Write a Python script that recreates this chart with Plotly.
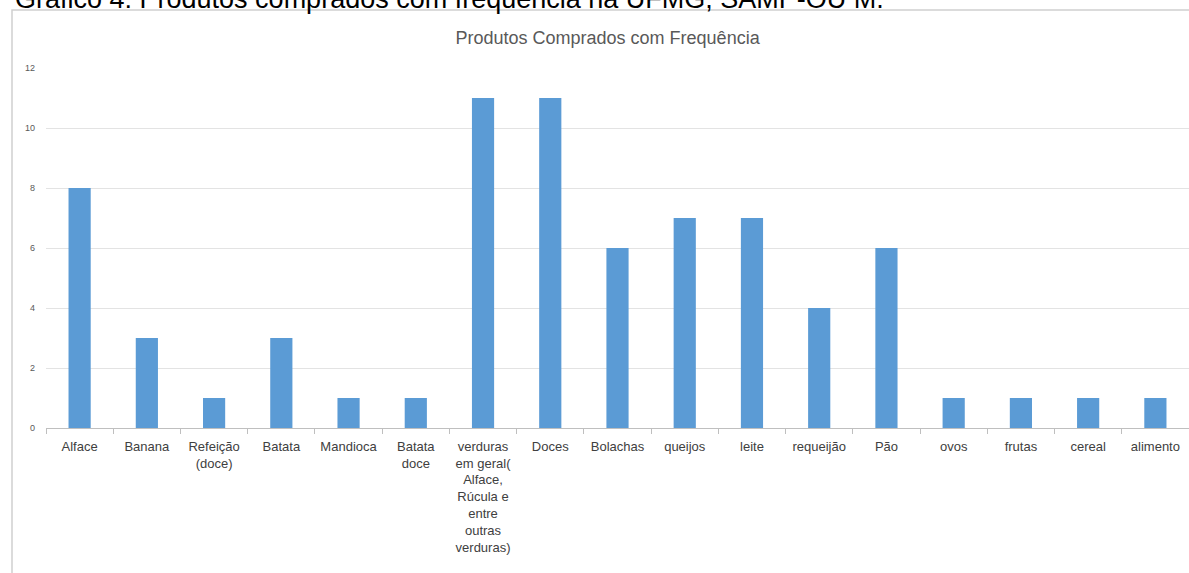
import plotly.graph_objects as go

categories = [
    "Alface", "Banana", "Refeição<br>(doce)", "Batata", "Mandioca", "Batata<br>doce",
    "verduras<br>em geral(<br>Alface,<br>Rúcula e<br>entre<br>outras<br>verduras)",
    "Doces", "Bolachas", "queijos", "leite", "requeijão", "Pão",
    "ovos", "frutas", "cereal", "alimento",
]
values = [8, 3, 1, 3, 1, 1, 11, 11, 6, 7, 7, 4, 6, 1, 1, 1, 1]
y_ticks = [0, 2, 4, 6, 8, 10, 12]

title_text = "Produtos Comprados com Frequência"
caption_text = "Gráfico 4: Produtos comprados com frequência na UFMG, SAMP-OU M."

fig = go.Figure(go.Bar(x=categories, y=values, marker_color="#5B9BD5",
                       marker_line_width=0))

fig.update_layout(
    width=1189, height=573,
    margin=dict(l=46, r=0, t=68, b=145),
    paper_bgcolor="white", plot_bgcolor="white",
    bargap=0.67,
    showlegend=False,
    font=dict(family="Liberation Sans, Arial, sans-serif", color="#404040"),
    title=dict(text=title_text, x=0.511, xanchor="center", y=1 - 38/573, yanchor="middle",
               font=dict(size=18, color="#595959")),
)
fig.update_xaxes(
    type="category", showline=True, linecolor="#bfbfbf", linewidth=1,
    ticks="outside", tickson="boundaries", ticklen=5, tickcolor="#bfbfbf",
    tickfont=dict(size=13, color="#404040"), tickangle=0, showgrid=False,
    ticklabelstandoff=6,
)
fig.update_yaxes(
    range=[0, 12], tickvals=y_ticks, showgrid=True, gridcolor="#e3e3e3",
    zeroline=False, showline=False, tickfont=dict(size=9, color="#595959"),
    ticks="", ticklabelstandoff=10,
)

# chart frame border
fig.add_shape(type="rect", xref="paper", yref="paper",
              x0=-34/1143, x1=1.05, y0=-0.5, y1=1 + 58/360,
              line=dict(color="#d0d0d0", width=1.5), fillcolor="rgba(0,0,0,0)", layer="below")

# caption at the very top, cut off by the image edge (as in the reference)
fig.add_annotation(text=caption_text, xref="paper", yref="paper",
                   x=-33/1143, xanchor="left", y=1 + 68/360, yanchor="bottom", yshift=-16,
                   showarrow=False, font=dict(size=27, color="black", family="Liberation Sans, Arial, sans-serif"))

fig.write_html("out.html")
